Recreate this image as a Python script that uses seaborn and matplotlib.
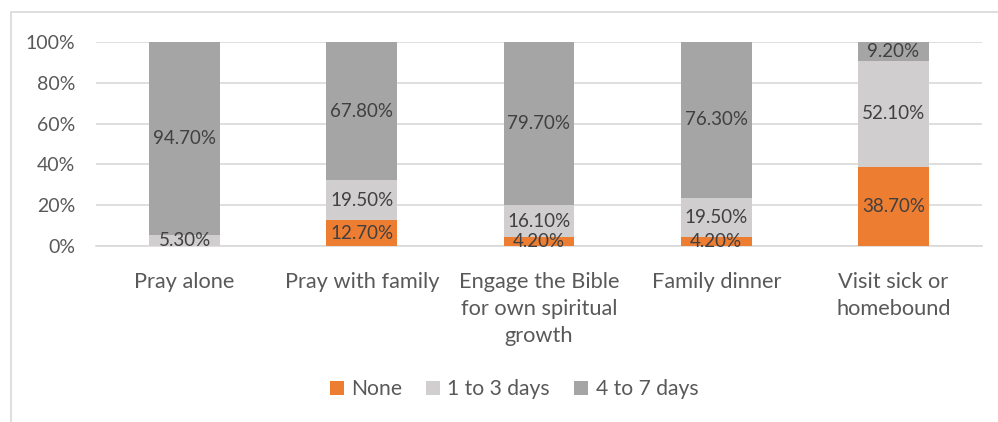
import matplotlib
matplotlib.use("Agg")
import matplotlib.pyplot as plt
from matplotlib.patches import Rectangle, Patch
import seaborn as sns
import pandas as pd
import numpy as np

categories = ["Pray alone", "Pray with family", "Engage the Bible\nfor own spiritual\ngrowth",
              "Family dinner", "Visit sick or\nhomebound"]
series_names = ["None", "1 to 3 days", "4 to 7 days"]
none_vals = [0.0, 12.7, 4.2, 4.2, 38.7]
few_days_vals = [5.3, 19.5, 16.1, 19.5, 52.1]
most_days_vals = [94.7, 67.8, 79.7, 76.3, 9.2]
y_ticks = [0, 20, 40, 60, 80, 100]
y_tick_labels = ["0%", "20%", "40%", "60%", "80%", "100%"]

colors = ["#ED7D31", "#D0CECE", "#A5A5A5"]
label_color = "#404040"
tick_color = "#595959"

sns.set_theme(style="white")
plt.rcParams["font.family"] = ["Lato", "DejaVu Sans"]

W, H = 998, 422
fig = plt.figure(figsize=(W / 100, H / 100), dpi=100)
ax = fig.add_axes([96 / W, 1 - 246 / H, (982 - 96) / W, (246 - 42) / H])

# outer chart frame (extends past the right and bottom edges)
fig.patches.append(Rectangle((11 / W, -0.1), 1.2, 1 - 12 / H + 0.1, transform=fig.transFigure,
                             fill=False, edgecolor="#D9D9D9", linewidth=1.2))

df = pd.DataFrame({"category": categories, "None": none_vals,
                   "1 to 3 days": few_days_vals, "4 to 7 days": most_days_vals})

bottom = np.zeros(len(categories))
for name, col in zip(series_names, colors):
    vals = df[name].to_numpy()
    sns.barplot(data=df, x="category", y=name, color=col, width=0.4, bottom=bottom,
                saturation=1, ax=ax, zorder=3, linewidth=0)
    for i, v in enumerate(vals):
        if v > 0:
            ax.text(i, bottom[i] + v / 2, f"{v:.2f}%", ha="center", va="center",
                    fontsize=13.5, color=label_color, zorder=5)
    bottom = bottom + vals

ax.set_ylim(0, 100)
ax.set_xlim(-0.5, len(categories) - 0.5)
ax.set_yticks(y_ticks)
ax.set_yticklabels(y_tick_labels)
ax.yaxis.grid(True, color="#D9D9D9", linewidth=1.2, zorder=0)
ax.set_axisbelow(True)
for s in ["top", "right", "left"]:
    ax.spines[s].set_visible(False)
ax.spines["bottom"].set_color("#D9D9D9")
ax.spines["bottom"].set_linewidth(1.2)
ax.tick_params(axis="y", length=0, labelsize=14, colors=tick_color, pad=15)
ax.tick_params(axis="x", length=0, labelsize=15.7, colors=tick_color, pad=18.5)
ax.set_xlabel("")
ax.set_ylabel("")
for lbl in ax.get_xticklabels():
    lbl.set_linespacing(1.45)
for lbl in ax.get_yticklabels():
    lbl.set_horizontalalignment("right")

handles = [Patch(facecolor=c, edgecolor="none") for c in colors]
fig.legend(handles, series_names, loc="center", bbox_to_anchor=(514 / W, 1 - 389 / H),
           ncol=3, frameon=False, fontsize=15.2, handlelength=0.65, handleheight=0.65,
           handletextpad=0.35, columnspacing=1.15, labelcolor=tick_color)

fig.savefig("out.png", dpi=100, facecolor="white")
